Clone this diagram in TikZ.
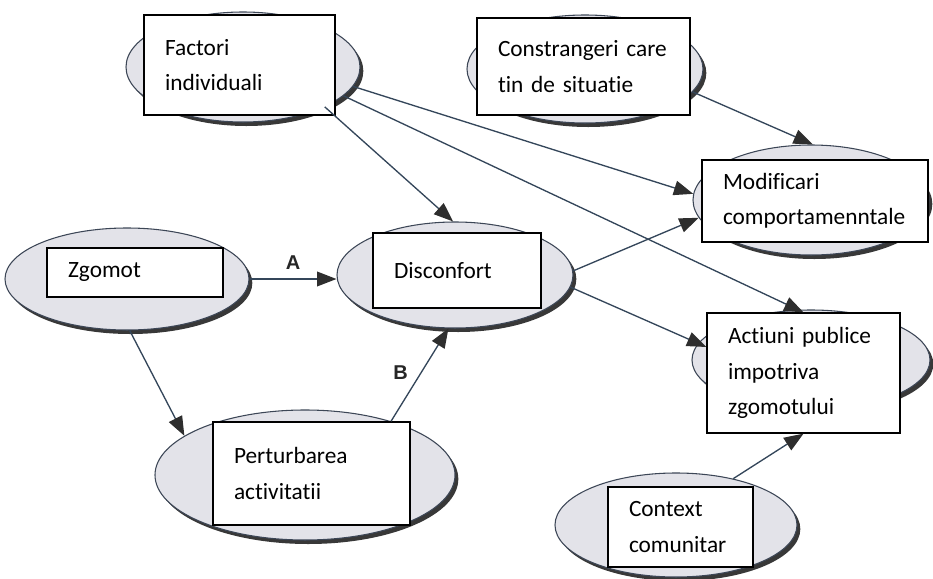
\documentclass[tikz,border=0pt]{standalone}
\usepackage{fontspec}
\setmainfont{Carlito}[RawFeature=-liga]
\newfontfamily\labelfont{Liberation Sans}
\usetikzlibrary{arrows.meta,shadows,shapes.geometric}
\definecolor{ellfill}{HTML}{E3E3E9}
\definecolor{ellline}{HTML}{3C4656}
\definecolor{arrline}{HTML}{34465A}
\definecolor{headcol}{HTML}{2E2E2E}
\begin{document}
\begin{tikzpicture}[x=0.75pt,y=-0.75pt,
  oval/.style={ellipse, draw=ellline, line width=0.8pt, fill=ellfill, inner sep=0pt,
    drop shadow={shadow xshift=2.5pt, shadow yshift=-3pt, fill=black!78, opacity=1}},
  txtbox/.style={rectangle, draw=black, line width=1pt, fill=white, inner xsep=15.75pt,
    inner ysep=0pt, align=left, font=\fontsize{17.5}{26.5}\selectfont,
    execute at begin node={\hyphenpenalty=10000\exhyphenpenalty=10000}},
  conn/.style={draw=arrline, line width=1pt,
    -{Triangle[length=14.5pt,width=11pt,color=headcol]}},
  lbl/.style={font=\labelfont\bfseries\fontsize{15}{15}\selectfont, text=black!85}]
\useasboundingbox (0,0) rectangle (933,579);
% ellipses
\node[oval, minimum width=175.5pt, minimum height=82.5pt] (factE) at (243,67) {};
\node[oval, minimum width=177pt, minimum height=81pt] (consE) at (585,69) {};
\node[oval, minimum width=177pt, minimum height=82.5pt] (modE) at (811,200) {};
\node[oval, minimum width=183pt, minimum height=76.5pt] (zgE) at (127,279) {};
\node[oval, minimum width=177pt, minimum height=79.5pt] (discE) at (455,275) {};
\node[oval, minimum width=225pt, minimum height=97.5pt] (pertE) at (305,475) {};
\node[oval, minimum width=178.5pt, minimum height=75pt] (actE) at (811,360) {};
\node[oval, minimum width=181.5pt, minimum height=78pt] (contE) at (676,525) {};
% boxes
\node[txtbox, minimum width=143.25pt, minimum height=75pt, text width=111.75pt] (factB) at (239.5,65) {Factori\\individuali};
\node[txtbox, minimum width=159.75pt, minimum height=72.75pt, text width=128.25pt] (consB) at (583.5,66.5) {Constrangeri care\\tin de situatie};
\node[txtbox, minimum width=169.5pt, minimum height=61.5pt, text width=138pt] (modB) at (815,201) {Modificari\\comportamenntale};
\node[txtbox, minimum width=132pt, minimum height=36.75pt, text width=100.5pt] (zgB) at (135,272.5) {Zgomot};
\node[txtbox, minimum width=126pt, minimum height=56.25pt, text width=94.5pt] (discB) at (457,270.5) {Disconfort};
\node[txtbox, minimum width=147.75pt, minimum height=77.25pt, text width=116.25pt] (pertB) at (311.5,473.5) {Perturbarea\\activitatii};
\node[txtbox, minimum width=144.75pt, minimum height=90pt, text width=113.25pt] (actB) at (803.5,373) {Actiuni publice\\impotriva\\zgomotului};
\node[txtbox, minimum width=108.75pt, minimum height=60pt, text width=77.25pt] (contB) at (680.5,527) {Context\\comunitar};
% connectors
\draw[conn] (factE.-10) -- (modE.177.5);
\draw[conn] (factE.-16) -- (actB.north);
\draw[conn] (factE.-26) -- (discE.92);
\draw[conn] (consE.-12) -- (modE.88);
\draw[conn] (zgE.east) -- (discE.west |- zgE.east) node[lbl, midway, above=3pt] (la) {A};
\draw[conn] (zgE.-87) -- (pertE.162);
\draw[conn] (pertE.32) -- (discE.-97) node[lbl, pos=0.52, left=6pt] (lb) {B};
\draw[conn] (discE.2) -- (modE.-171.5);
\draw[conn] (discE.-6) -- (actB.165);
\draw[conn] (contE.39.5) -- (actB.south);
\end{tikzpicture}
\end{document}
